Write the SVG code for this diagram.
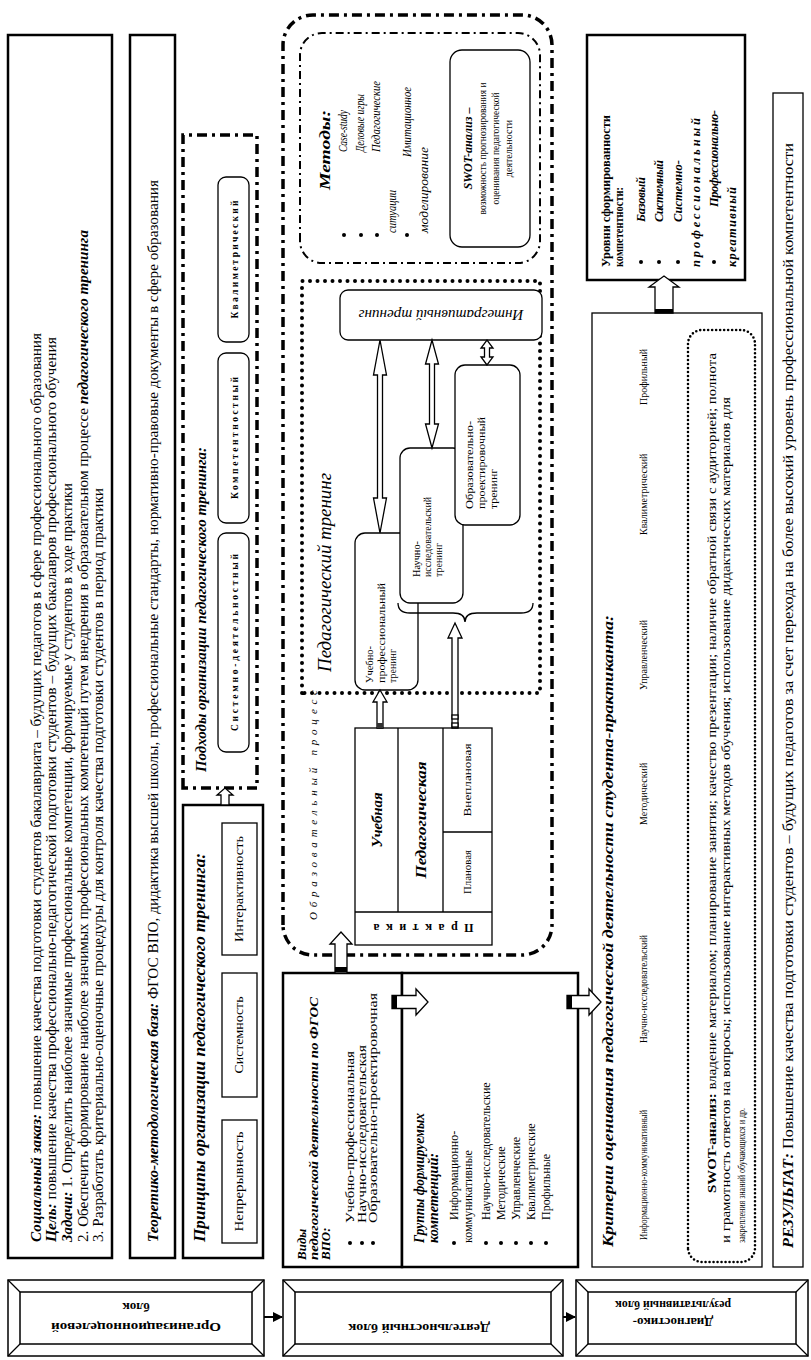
<svg xmlns="http://www.w3.org/2000/svg" width="811" height="1360" viewBox="0 0 811 1360">
<defs>
<style>
text{font-family:"Liberation Serif","Times New Roman",serif;fill:#000}
.bi{font-weight:bold;font-style:italic}
.b{font-weight:bold}
.i{font-style:italic}
.thick{fill:#fff;stroke:#000;stroke-width:2.5}
.thin{fill:#fff;stroke:#000;stroke-width:1.3}
.ddash{fill:none;stroke:#000;stroke-width:3.5;stroke-dasharray:10 5 3 5}
.mdash{fill:none;stroke:#000;stroke-width:2;stroke-dasharray:8 4 2 4}
.dots{fill:none;stroke:#000;stroke-width:4;stroke-dasharray:0 7.5;stroke-linecap:round}
.fdots{fill:none;stroke:#000;stroke-width:2.6;stroke-dasharray:0 4;stroke-linecap:round}
.arr{fill:#fff;stroke:#000;stroke-width:1.3}
.frame{fill:#fff;stroke:#000;stroke-width:1.5}
.ln{stroke:#000;stroke-width:1.3;fill:none}
.blk{stroke:#000;stroke-width:2;fill:none}
</style>
<marker id="ah" viewBox="0 0 10 10" refX="9" refY="5" markerWidth="5" markerHeight="5" orient="auto"><path d="M0,0 L10,5 L0,10 Z"/></marker>
</defs>
<rect x="0" y="0" width="811" height="1360" fill="#fff"/>
<g transform="translate(0,1360) rotate(-90)">

<!-- left column blocks -->
<g id="block-org">
<rect class="frame" x="4" y="8" width="76" height="256"/>
<rect class="frame" x="16" y="20" width="52" height="232"/>
<path class="ln" d="M4,8 L16,20 M80,8 L68,20 M4,264 L16,252 M80,264 L68,252"/>
<g transform="translate(42,136) rotate(-90)" text-anchor="middle" class="b" font-size="13">
<text y="-5" textLength="170" lengthAdjust="spacingAndGlyphs">Организационноцелевой</text>
<text y="15">блок</text>
</g>
</g>
<g id="block-act">
<rect class="frame" x="4" y="283" width="76" height="280"/>
<rect class="frame" x="16" y="295" width="52" height="256"/>
<path class="ln" d="M4,283 L16,295 M80,283 L68,295 M4,563 L16,551 M80,563 L68,551"/>
<g transform="translate(42,419) rotate(-90)" text-anchor="middle" class="b" font-size="13">
<text y="-6" textLength="142" lengthAdjust="spacingAndGlyphs">Деятельностный блок</text>
</g>
</g>
<g id="block-diag">
<rect class="frame" x="4" y="576" width="76" height="232"/>
<rect class="frame" x="16" y="588" width="52" height="208"/>
<path class="ln" d="M4,576 L16,588 M80,576 L68,588 M4,808 L16,796 M80,808 L68,796"/>
<g transform="translate(42,673) rotate(-90)" text-anchor="middle" class="b" font-size="13">
<text y="0">Диагностико-</text>
<text y="17" textLength="116" lengthAdjust="spacingAndGlyphs">результативный блок</text>
</g>
</g>

<!-- goals box -->
<g id="goals">
<rect class="thick" x="102" y="8" width="1223" height="104"/>
<g font-size="14" lengthAdjust="spacingAndGlyphs">
<text x="118" y="41" textLength="909" lengthAdjust="spacingAndGlyphs"><tspan class="bi">Социальный заказ:</tspan> повышение качества подготовки студентов бакалавриата – будущих педагогов в сфере профессионального образования</text>
<text x="118" y="56" textLength="905" lengthAdjust="spacingAndGlyphs"><tspan class="bi">Цель:</tspan> повышение качества профессионально-педагогической подготовки студентов – будущих бакалавров профессионального обучения</text>
<text x="118" y="72" textLength="759" lengthAdjust="spacingAndGlyphs"><tspan class="bi">Задачи:</tspan> 1. Определить наиболее значимые профессиональные компетенции, формируемые у студентов в ходе практики</text>
<text x="118" y="88" textLength="1012" lengthAdjust="spacingAndGlyphs">2. Обеспечить формирование наиболее значимых профессиональных компетенций путем внедрения в образовательном процессе <tspan class="bi">педагогического тренинга</tspan></text>
<text x="118" y="103" textLength="754" lengthAdjust="spacingAndGlyphs">3. Разработать критериально-оценочные процедуры для контроля качества подготовки студентов в период практики</text>
</g>
</g>

<!-- theory base -->
<g id="theory">
<rect class="thick" x="102" y="130" width="1223" height="45"/>
<text x="118" y="158" font-size="14" textLength="1062" lengthAdjust="spacingAndGlyphs"><tspan class="bi">Теоретико-методологическая база:</tspan> ФГОС ВПО, дидактика высшей школы, профессиональные стандарты, нормативно-правовые документы в сфере образования</text>
</g>

<!-- principles -->
<g id="principles">
<rect class="thick" x="102" y="183" width="453" height="80"/>
<text x="118" y="205" class="bi" font-size="16" textLength="389" lengthAdjust="spacingAndGlyphs">Принципы организации педагогического тренинга:</text>
<rect class="thin" x="117" y="222" width="123" height="35"/>
<rect class="thin" x="263" y="222" width="124" height="35"/>
<rect class="thin" x="405" y="222" width="132" height="35"/>
<g font-size="12" text-anchor="middle">
<text x="178.5" y="243" textLength="100" lengthAdjust="spacingAndGlyphs">Непрерывность</text>
<text x="325" y="243" textLength="77" lengthAdjust="spacingAndGlyphs">Системность</text>
<text x="471" y="243" textLength="106" lengthAdjust="spacingAndGlyphs">Интерактивность</text>
</g>
</g>

<!-- approaches -->
<g id="approaches">
<rect x="572" y="183" width="653" height="74" class="ddash"/>
<text x="588" y="206" class="bi" font-size="14" textLength="325" lengthAdjust="spacingAndGlyphs">Подходы организации педагогического тренинга:</text>
<rect class="thin" x="608" y="218" width="219" height="31" rx="8"/>
<rect class="thin" x="837" y="218" width="170" height="31" rx="8"/>
<rect class="thin" x="1018" y="218" width="165" height="31" rx="8"/>
<g class="b" font-size="9.5" text-anchor="middle">
<text x="717.5" y="237.5" textLength="177" lengthAdjust="spacing">Системно-деятельностный</text>
<text x="922" y="237.5" textLength="122" lengthAdjust="spacing">Компетентностный</text>
<text x="1100.5" y="237.5" textLength="118" lengthAdjust="spacing">Квалиметрический</text>
</g>
</g>

<!-- educational process -->
<g id="process">
<rect x="405" y="283" width="940" height="269" rx="30" class="ddash"/>
<text x="440" y="317" class="i" font-size="11" textLength="230" lengthAdjust="spacing">Образовательный  процесс</text>
</g>

<!-- practice table -->
<g id="practice">
<rect class="thin" x="415" y="355" width="217" height="137"/>
<path class="ln" d="M448,355 L448,492 M448,398 L632,398 M448,443 L632,443 M528,443 L528,492"/>
<text transform="translate(436,423.5) rotate(-90)" text-anchor="middle" class="b" font-size="12" textLength="100" lengthAdjust="spacing">Практика</text>
<text x="540" y="382" text-anchor="middle" class="bi" font-size="14" textLength="55" lengthAdjust="spacingAndGlyphs">Учебная</text>
<text x="540" y="426" text-anchor="middle" class="bi" font-size="14" textLength="117" lengthAdjust="spacingAndGlyphs">Педагогическая</text>
<text x="488" y="471" text-anchor="middle" font-size="11" textLength="44" lengthAdjust="spacingAndGlyphs">Плановая</text>
<text x="580" y="471" text-anchor="middle" font-size="11" textLength="73" lengthAdjust="spacingAndGlyphs">Внеплановая</text>
</g>

<!-- pedagogical training -->
<g id="ped-training">
<rect x="667" y="302" width="412" height="238" class="dots"/>
<text x="688" y="331" class="i" font-size="19" textLength="199" lengthAdjust="spacingAndGlyphs">Педагогический тренинг</text>
</g>
<g id="train-ucheb">
<rect class="thin" x="670" y="355" width="157" height="63" rx="10"/>
<g font-size="11">
<text x="677" y="373" textLength="37" lengthAdjust="spacingAndGlyphs">Учебно-</text>
<text x="677" y="385" textLength="100" lengthAdjust="spacingAndGlyphs">профессиональный</text>
<text x="677" y="396" textLength="34" lengthAdjust="spacingAndGlyphs">тренинг</text>
</g>
</g>
<g id="train-nauch">
<rect class="thin" x="757" y="400" width="155" height="63" rx="10"/>
<g font-size="11">
<text x="783" y="420" textLength="36" lengthAdjust="spacingAndGlyphs">Научно-</text>
<text x="783" y="431" textLength="80" lengthAdjust="spacingAndGlyphs">исследовательский</text>
<text x="783" y="442" textLength="34" lengthAdjust="spacingAndGlyphs">тренинг</text>
</g>
</g>
<g id="train-obraz">
<rect class="thin" x="835" y="455" width="160" height="65" rx="10"/>
<g font-size="11">
<text x="851" y="473" textLength="88" lengthAdjust="spacingAndGlyphs">Образовательно-</text>
<text x="851" y="485" textLength="92" lengthAdjust="spacingAndGlyphs">проектировочный</text>
<text x="851" y="497" textLength="40" lengthAdjust="spacingAndGlyphs">тренинг</text>
</g>
</g>
<g id="train-integr">
<rect class="thin" x="1020" y="340" width="50" height="202" rx="8"/>
<text transform="translate(1050,441) rotate(-90)" text-anchor="middle" class="i" font-size="15" textLength="165" lengthAdjust="spacingAndGlyphs">Интегративный тренинг</text>
</g>

<!-- methods -->
<g id="methods">
<rect x="1097" y="300" width="230" height="240" rx="22" class="mdash"/>
<text x="1170" y="330" class="bi" font-size="15" textLength="80" lengthAdjust="spacingAndGlyphs">Методы:</text>
<circle cx="1125" cy="344" r="2"/>
<circle cx="1125" cy="361" r="2"/>
<circle cx="1125" cy="377" r="2"/>
<circle cx="1125" cy="407" r="2"/>
<g class="i" font-size="11.5">
<text x="1208" y="347" textLength="42" lengthAdjust="spacingAndGlyphs">Case-study</text>
<text x="1208" y="364" textLength="58" lengthAdjust="spacingAndGlyphs">Деловые игры</text>
<text x="1208" y="380" textLength="71" lengthAdjust="spacingAndGlyphs">Педагогические</text>
<text x="1127" y="396" textLength="43" lengthAdjust="spacingAndGlyphs">ситуации</text>
<text x="1203" y="411" textLength="70" lengthAdjust="spacingAndGlyphs">Имитационное</text>
<text x="1127" y="428" textLength="86" lengthAdjust="spacingAndGlyphs">моделирование</text>
</g>
<rect class="thin" x="1113" y="450" width="197" height="80" rx="12"/>
<g text-anchor="middle">
<text x="1211.5" y="472" class="bi" font-size="12" textLength="82" lengthAdjust="spacingAndGlyphs">SWOT-анализ –</text>
<text x="1211.5" y="486" font-size="10" textLength="132" lengthAdjust="spacingAndGlyphs">возможность прогнозирования и</text>
<text x="1211.5" y="499" font-size="10" textLength="112" lengthAdjust="spacingAndGlyphs">оценивания педагогической</text>
<text x="1211.5" y="512" font-size="10">деятельности</text>
</g>
</g>

<!-- activity kinds -->
<g id="kinds">
<rect class="thick" x="93" y="283" width="294" height="119"/>
<g class="bi" font-size="13">
<text x="100" y="306">Виды</text>
<text x="100" y="318" textLength="263" lengthAdjust="spacingAndGlyphs">педагогической деятельности по ФГОС</text>
<text x="100" y="330">ВПО:</text>
</g>
<circle cx="117" cy="350" r="2"/>
<circle cx="117" cy="362" r="2"/>
<circle cx="117" cy="373" r="2"/>
<g font-size="12">
<text x="137" y="354" textLength="172" lengthAdjust="spacingAndGlyphs">Учебно-профессиональная</text>
<text x="137" y="366" textLength="178" lengthAdjust="spacingAndGlyphs">Научно-исследовательская</text>
<text x="137" y="377" textLength="230" lengthAdjust="spacingAndGlyphs">Образовательно-проектировочная</text>
</g>
</g>

<!-- competence groups -->
<g id="groups">
<rect class="thick" x="93" y="402" width="294" height="176"/>
<g class="bi" font-size="15">
<text x="117" y="424" textLength="130" lengthAdjust="spacingAndGlyphs">Группы формируемых</text>
<text x="117" y="438" textLength="90" lengthAdjust="spacingAndGlyphs">компетенций:</text>
</g>
<circle cx="117" cy="454" r="2"/>
<circle cx="117" cy="486" r="2"/>
<circle cx="117" cy="501" r="2"/>
<circle cx="117" cy="516" r="2"/>
<circle cx="117" cy="531" r="2"/>
<circle cx="117" cy="546" r="2"/>
<g font-size="12">
<text x="140" y="458">Информационно-</text>
<text x="117" y="472">коммуникативные</text>
<text x="140" y="490">Научно-исследовательские</text>
<text x="140" y="505">Методические</text>
<text x="140" y="520">Управленческие</text>
<text x="140" y="535">Квалиметрические</text>
<text x="140" y="550">Профильные</text>
</g>
</g>

<!-- criteria -->
<g id="criteria">
<rect class="thin" x="93" y="592" width="954" height="170"/>
<text x="113" y="613" class="bi" font-size="15" textLength="632" lengthAdjust="spacingAndGlyphs">Критерии оценивания педагогической деятельности студента-практиканта:</text>
<g font-size="10">
<text x="120" y="647" textLength="130" lengthAdjust="spacingAndGlyphs">Информационно-коммуникативный</text>
<text x="317" y="647" textLength="108" lengthAdjust="spacingAndGlyphs">Научно-исследовательский</text>
<text x="535" y="647">Методический</text>
<text x="670" y="647">Управленческий</text>
<text x="825" y="647">Квалиметрический</text>
<text x="955" y="647">Профильный</text>
</g>
<rect x="98" y="688" width="932" height="67" rx="14" class="fdots"/>
<text x="167" y="716" font-size="13" textLength="840" lengthAdjust="spacingAndGlyphs"><tspan class="b">SWOT-анализ:</tspan> владение материалом; планирование занятия; качество презентации; наличие обратной связи с аудиторией; полнота</text>
<text x="117" y="730" font-size="13" textLength="846" lengthAdjust="spacingAndGlyphs">и грамотность ответов на вопросы; использование интерактивных методов обучения; использование дидактических материалов для</text>
<text x="117" y="745" font-size="10" textLength="135" lengthAdjust="spacingAndGlyphs">закрепления знаний обучающихся и др.</text>
</g>

<!-- levels -->
<g id="levels">
<rect class="thick" x="1080" y="587" width="245" height="158"/>
<g class="b" font-size="12.5">
<text x="1093" y="610" textLength="152" lengthAdjust="spacingAndGlyphs">Уровни сформированности</text>
<text x="1093" y="623" textLength="80" lengthAdjust="spacingAndGlyphs">компетентности:</text>
</g>
<circle cx="1098" cy="641" r="2"/>
<circle cx="1098" cy="659" r="2"/>
<circle cx="1098" cy="678" r="2"/>
<circle cx="1098" cy="714" r="2"/>
<g class="bi" font-size="12.5">
<text x="1138" y="645" textLength="45" lengthAdjust="spacing">Базовый</text>
<text x="1138" y="663" textLength="62" lengthAdjust="spacing">Системный</text>
<text x="1138" y="682" textLength="62" lengthAdjust="spacing">Системно-</text>
<text x="1093" y="700" textLength="149" lengthAdjust="spacing">профессиональный</text>
<text x="1153" y="718" textLength="97" lengthAdjust="spacing">Профессионально-</text>
<text x="1093" y="736" textLength="80" lengthAdjust="spacing">креативный</text>
</g>
</g>

<!-- result -->
<g id="result">
<rect class="thin" x="93" y="773" width="1174" height="30"/>
<text x="112" y="793" font-size="14" textLength="1105" lengthAdjust="spacingAndGlyphs"><tspan class="bi">РЕЗУЛЬТАТ:</tspan> Повышение качества подготовки студентов – будущих педагогов за счет перехода на более высокий уровень профессиональной компетентности</text>
</g>

<!-- connectors -->
<g id="connectors">
<line class="blk" x1="43" y1="264" x2="43" y2="282" marker-end="url(#ah)"/>
<line class="blk" x1="43" y1="563" x2="43" y2="575" marker-end="url(#ah)"/>
<path class="arr" d="M555,221 L565,221 L565,217 L572,225 L565,233 L565,229 L555,229 Z"/>
<path class="arr" d="M387,335 L416,335 L416,330 L428,341 L416,352 L416,347 L387,347 Z"/>
<rect x="388" y="335" width="5" height="12"/>
<path class="arr" d="M632,377 L658,377 L658,373 L670,380 L658,387 L658,383 L632,383 Z"/>
<rect x="632" y="377" width="5" height="6" fill="#333"/>
<path class="arr" d="M632,452 L722,452 L722,448 L737,455 L722,462 L722,458 L632,458 Z"/>
<rect x="633" y="452" width="4" height="6" fill="#fff" stroke="#000" stroke-width="1.3"/>
<rect x="641" y="452" width="4" height="6" fill="#fff" stroke="#000" stroke-width="1.3"/>
<path class="ln" d="M757,398 Q747,398 747,410 L747,453 Q747,465 738,465 Q747,465 747,477 L747,521 Q747,533 757,533"/>
<path class="arr" d="M827,380 L862,373.5 L862,377.5 L985,377.5 L985,373.5 L1020,380 L985,386.5 L985,382.5 L862,382.5 L862,386.5 Z"/>
<path class="arr" d="M912,432 L936,425.5 L936,429.5 L996,429.5 L996,425.5 L1020,432 L996,438.5 L996,434.5 L936,434.5 L936,438.5 Z"/>
<path class="arr" d="M995,487 L1003,481 L1003,484.5 L1012,484.5 L1012,481 L1020,487 L1012,493 L1012,489.5 L1003,489.5 L1003,493 Z"/>
<path class="arr" d="M351.5,392 L351.5,416 L345,416 L358,428 L371,416 L364.5,416 L364.5,392 Z"/>
<rect x="351.5" y="392" width="13" height="5"/>
<path class="arr" d="M351.5,567 L351.5,589 L345,589 L358,601 L371,589 L364.5,589 L364.5,567 Z"/>
<rect x="351.5" y="567" width="13" height="5"/>
<path class="arr" d="M1047,655 L1073,655 L1073,649 L1084,664 L1073,679 L1073,673 L1047,673 Z"/>
<rect x="1047" y="655" width="4" height="18"/>
</g>
</g>
</svg>
